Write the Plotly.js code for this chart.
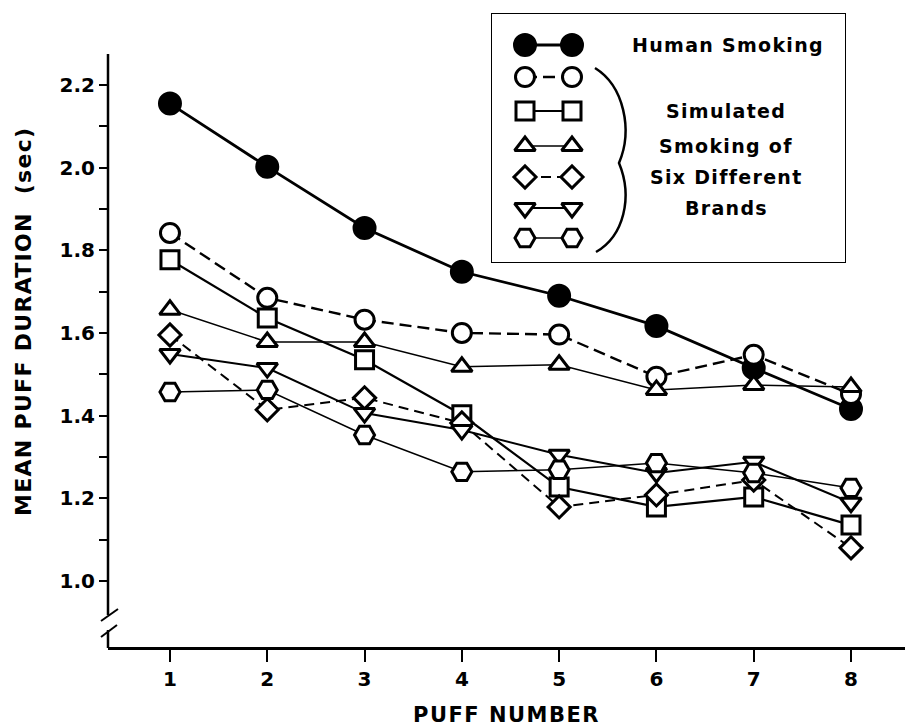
<!DOCTYPE html>
<html>
<head>
<meta charset="utf-8">
<script src="https://cdn.plot.ly/plotly-3.0.1.min.js"></script>
<style>
html, body { margin: 0; padding: 0; background: #fff; }
#chart { width: 910px; height: 727px; }
.xtitle { letter-spacing: 1.5px; }
.annotation-text { letter-spacing: 1.3px; }
</style>
</head>
<body>
<div id="chart"></div>
<script>
// ---------- data ----------
const puffNumber = [1, 2, 3, 4, 5, 6, 7, 8];
const humanSmoking   = [2.155, 2.002, 1.854, 1.748, 1.690, 1.617, 1.515, 1.416];
const brandCircle    = [1.842, 1.685, 1.632, 1.600, 1.596, 1.494, 1.547, 1.452];
const brandSquare    = [1.777, 1.636, 1.535, 1.402, 1.227, 1.179, 1.203, 1.135];
const brandTriangle  = [1.656, 1.578, 1.578, 1.518, 1.523, 1.462, 1.474, 1.469];
const brandDiamond   = [1.595, 1.414, 1.443, 1.382, 1.179, 1.208, 1.244, 1.080];
const brandTriDown   = [1.549, 1.515, 1.406, 1.365, 1.305, 1.261, 1.288, 1.189];
const brandHexagon   = [1.457, 1.462, 1.353, 1.264, 1.269, 1.285, 1.261, 1.225];
const seriesNames = ['Human Smoking', 'Brand 1', 'Brand 2', 'Brand 3', 'Brand 4', 'Brand 5', 'Brand 6'];
const xTickLabels = ['1', '2', '3', '4', '5', '6', '7', '8'];
const yTickValues = [1.0, 1.2, 1.4, 1.6, 1.8, 2.0, 2.2];
const yMinorTickValues = [1.1, 1.3, 1.5, 1.7, 1.9, 2.1];
const xTitle = 'PUFF NUMBER';
const yTitle = 'MEAN PUFF DURATION\u00a0\u00a0(sec)';
const humanLabel = 'Human Smoking';
const bracketLabel = ['Simulated', 'Smoking of', 'Six Different', 'Brands'];

const allSeries = [humanSmoking, brandCircle, brandSquare, brandTriangle, brandDiamond, brandTriDown, brandHexagon];

// ---------- styles ----------
const seriesStyle = [
  { symbol: 'circle',        fill: '#000', size: 21, lw: 2.8, dash: 'solid' },
  { symbol: 'circle',        fill: '#fff', size: 19, lw: 2.4, dash: '12px,6px' },
  { symbol: 'square',        fill: '#fff', size: 18, lw: 2.2, dash: 'solid' },
  { symbol: 'triangle-up',   fill: '#fff', size: 18, lw: 1.5, dash: 'solid' },
  { symbol: 'diamond',       fill: '#fff', size: 17, lw: 2.0, dash: '10px,6px' },
  { symbol: 'triangle-down', fill: '#fff', size: 18, lw: 2.0, dash: 'solid' },
  { symbol: 'hexagon2',      fill: '#fff', size: 20, lw: 1.5, dash: 'solid' }
];
const markerEdge = 3;

// ---------- geometry helpers (pixel -> paper) ----------
const W = 910, H = 727;
const M = { l: 108, r: 5, t: 10, b: 80 };
const PW = W - M.l - M.r, PH = H - M.t - M.b;
const fx = px => (px - M.l) / PW;
const fy = py => (H - M.b - py) / PH;
const plotTopPx = 54;

// legend panel (its own axes in pixel-like units)
const legBox = { x0: 491, x1: 846, y0: 13, y1: 263 };
const legSampleX = [525, 572];
const legRowY = [45, 77, 111, 146, 177, 208, 238];
const legTextX = 726;
const FONT = { family: 'DejaVu Sans', weight: 'bold', color: '#000' };

const traces = [];
allSeries.forEach((vals, i) => {
  const s = seriesStyle[i];
  traces.push({
    type: 'scatter', mode: 'lines+markers', name: seriesNames[i],
    x: puffNumber, y: vals, xaxis: 'x', yaxis: 'y',
    line: { color: '#000', width: s.lw, dash: s.dash },
    marker: { symbol: s.symbol, size: s.size, color: s.fill, line: { color: '#000', width: markerEdge } },
    cliponaxis: false, showlegend: false
  });
});
// legend samples
seriesStyle.forEach((s, i) => {
  traces.push({
    type: 'scatter', mode: 'lines+markers', name: seriesNames[i],
    x: legSampleX, y: [legRowY[i], legRowY[i]], xaxis: 'x2', yaxis: 'y2',
    line: { color: '#000', width: s.lw, dash: s.dash },
    marker: { symbol: s.symbol, size: s.size, color: s.fill, line: { color: '#000', width: markerEdge } },
    cliponaxis: false, showlegend: false, hoverinfo: 'skip'
  });
});

const annotations = [
  { text: yTitle, xref: 'paper', yref: 'paper', x: fx(23), y: fy(322), textangle: -90,
    xanchor: 'center', yanchor: 'middle', showarrow: false, font: Object.assign({ size: 22 }, FONT) },
  { text: humanLabel, xref: 'x2', yref: 'y2', x: 728, y: legRowY[0], xanchor: 'center', yanchor: 'middle',
    showarrow: false, font: Object.assign({ size: 19 }, FONT) }
];
bracketLabel.forEach((t, k) => {
  annotations.push({ text: t, xref: 'x2', yref: 'y2', x: legTextX, y: legRowY[k + 2],
    xanchor: 'center', yanchor: 'middle', showarrow: false, font: Object.assign({ size: 19 }, FONT) });
});

const lineStyle = { color: '#000', width: 2.5 };
const shapes = [
  // broken y axis
  { type: 'line', xref: 'paper', yref: 'paper', x0: 0, x1: 0, y0: fy(plotTopPx), y1: fy(615), line: lineStyle },
  { type: 'line', xref: 'paper', yref: 'paper', x0: 0, x1: 0, y0: fy(630), y1: fy(648), line: lineStyle },
  { type: 'line', xref: 'paper', yref: 'paper', x0: fx(101), x1: fx(118), y0: fy(621), y1: fy(609), line: { color: '#000', width: 2 } },
  { type: 'line', xref: 'paper', yref: 'paper', x0: fx(101), x1: fx(117), y0: fy(637), y1: fy(625), line: { color: '#000', width: 2 } },
  // legend box
  { type: 'rect', xref: 'x2', yref: 'y2', x0: legBox.x0, x1: legBox.x1, y0: legBox.y0, y1: legBox.y1,
    line: { color: '#000', width: 2 }, fillcolor: 'rgba(0,0,0,0)' },
  // brace
  { type: 'path', xref: 'x2', yref: 'y2',
    path: 'M595,68 C624,86 633,130 619,163 C633,197 624,236 596,252',
    line: { color: '#000', width: 2.5 } }
];

const layout = {
  width: W, height: H,
  margin: M,
  paper_bgcolor: '#fff', plot_bgcolor: 'rgba(0,0,0,0)',
  showlegend: false,
  font: Object.assign({ size: 18 }, FONT),
  xaxis: {
    domain: [0, 1], range: [0.363, 8.555],
    tickmode: 'array', tickvals: puffNumber, ticktext: xTickLabels,
    ticks: 'outside', ticklen: 12, tickwidth: 2, tickcolor: '#000',
    showline: true, linewidth: 2.5, linecolor: '#000',
    showgrid: false, zeroline: false,
    tickfont: Object.assign({ size: 20 }, FONT),
    title: { text: xTitle, standoff: 20, font: Object.assign({ size: 21 }, FONT) },
    anchor: 'y'
  },
  yaxis: {
    domain: [0, fy(plotTopPx)], range: [0.840, 2.275],
    tickmode: 'array', tickvals: yTickValues, tickformat: '.1f',
    ticks: 'outside', ticklen: 8, tickwidth: 2, tickcolor: '#000',
    minor: { tickmode: 'array', tickvals: yMinorTickValues, ticks: 'outside', ticklen: 8, tickwidth: 2, tickcolor: '#000', showgrid: false },
    showline: false, showgrid: false, zeroline: false,
    tickfont: Object.assign({ size: 20 }, FONT),
    anchor: 'x'
  },
  xaxis2: { domain: [fx(legBox.x0), fx(legBox.x1)], range: [legBox.x0, legBox.x1], visible: false, anchor: 'y2', fixedrange: true },
  yaxis2: { domain: [fy(legBox.y1), fy(legBox.y0)], range: [legBox.y1, legBox.y0], visible: false, anchor: 'x2', fixedrange: true },
  annotations: annotations,
  shapes: shapes
};

Plotly.newPlot('chart', traces, layout, { displayModeBar: false, staticPlot: true });
</script>
</body>
</html>
